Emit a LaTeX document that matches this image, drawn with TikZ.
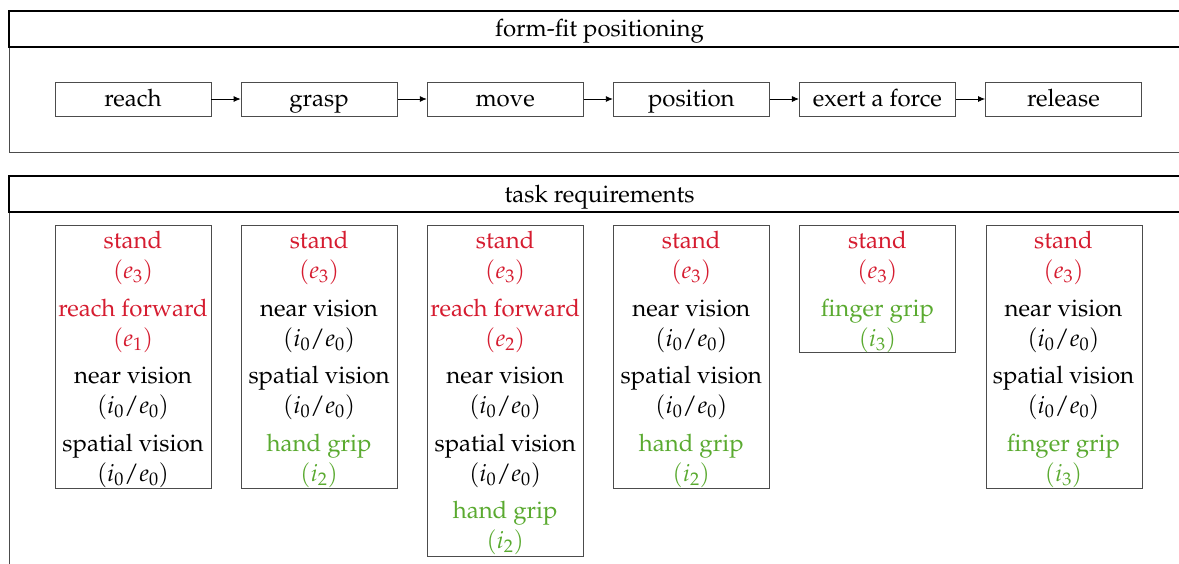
\documentclass[tikz,border=0pt]{standalone}
\usepackage[T1]{fontenc}
\usepackage{mathpazo}
\usetikzlibrary{arrows.meta}
\definecolor{reqred}{RGB}{214,28,48}
\definecolor{reqgreen}{RGB}{90,170,48}
\newcommand\ReqItem[6]{%
  \node[lbl,text=#4] (#1a) at (#2,#3+1.5) {#5};
  \node[lbl,text=#4] (#1b) at (#2,#3+31.5) {#6};
}
\begin{document}
\begin{tikzpicture}[x=1pt,y=-1pt,
  every node/.style={font=\fontsize{24}{30}\selectfont, inner sep=0pt},
  framebox/.style={draw=black!70, line width=0.9pt},
  headbox/.style={draw=black, line width=1.2pt},
  stepbox/.style={draw=black!70, line width=0.9pt, minimum width=156pt, minimum height=34pt, text height=19pt, text depth=5pt},
  reqbox/.style={draw=black!70, line width=0.9pt, minimum width=156pt, anchor=north west},
  flow/.style={-{Latex[length=7pt,width=6pt]}, line width=0.8pt},
  lbl/.style={anchor=base, align=center}
]
\useasboundingbox (0,0) rectangle (1179,563);
\clip (0,0) rectangle (1179,563);
\fill[white] (0,0) rectangle (1179,563);

% top panel
\draw[framebox] (9,11) rectangle (1192,152);
\draw[headbox] (9,11) rectangle (1192,47);
\node[lbl] (title1) at (599.5,36.5) {form-fit positioning};

\node[stepbox] (s1) at (133,99) {reach};
\node[stepbox] (s2) at (319.1,99) {grasp};
\node[stepbox] (s3) at (505.2,99) {move};
\node[stepbox] (s4) at (691.3,99) {position};
\node[stepbox] (s5) at (877.4,99) {exert a force};
\node[stepbox] (s6) at (1063.5,99) {release};
\draw[flow] (s1) -- (s2);
\draw[flow] (s2) -- (s3);
\draw[flow] (s3) -- (s4);
\draw[flow] (s4) -- (s5);
\draw[flow] (s5) -- (s6);

% bottom panel
\draw[framebox] (9,176) rectangle (1192,620);
\draw[headbox] (9,176) rectangle (1192,212);
\node[lbl] (title2) at (599.5,202) {task requirements};

\node[reqbox, minimum height=263pt] (b1) at (55,225) {};
\node[reqbox, minimum height=263pt] (b2) at (241.1,225) {};
\node[reqbox, minimum height=331pt] (b3) at (427.2,225) {};
\node[reqbox, minimum height=263pt] (b4) at (613.3,225) {};
\node[reqbox, minimum height=127pt] (b5) at (799.4,225) {};
\node[reqbox, minimum height=263pt] (b6) at (985.5,225) {};

% column 1
\ReqItem{ca}{133}{247}{reqred}{stand}{$(e_3)$}
\ReqItem{cb}{133}{314.5}{reqred}{reach forward}{$(e_1)$}
\ReqItem{cc}{133}{382}{black}{near vision}{$(i_0/e_0)$}
\ReqItem{cd}{133}{449.5}{black}{spatial vision}{$(i_0/e_0)$}
% column 2
\ReqItem{da}{319.1}{247}{reqred}{stand}{$(e_3)$}
\ReqItem{db}{319.1}{314.5}{black}{near vision}{$(i_0/e_0)$}
\ReqItem{dc}{319.1}{382}{black}{spatial vision}{$(i_0/e_0)$}
\ReqItem{dd}{319.1}{449.5}{reqgreen}{hand grip}{$(i_2)$}
% column 3
\ReqItem{ea}{505.2}{247}{reqred}{stand}{$(e_3)$}
\ReqItem{eb}{505.2}{314.5}{reqred}{reach forward}{$(e_2)$}
\ReqItem{ec}{505.2}{382}{black}{near vision}{$(i_0/e_0)$}
\ReqItem{ed}{505.2}{449.5}{black}{spatial vision}{$(i_0/e_0)$}
\ReqItem{ee}{505.2}{517}{reqgreen}{hand grip}{$(i_2)$}
% column 4
\ReqItem{fa}{691.3}{247}{reqred}{stand}{$(e_3)$}
\ReqItem{fb}{691.3}{314.5}{black}{near vision}{$(i_0/e_0)$}
\ReqItem{fc}{691.3}{382}{black}{spatial vision}{$(i_0/e_0)$}
\ReqItem{fd}{691.3}{449.5}{reqgreen}{hand grip}{$(i_2)$}
% column 5
\ReqItem{ga}{877.4}{247}{reqred}{stand}{$(e_3)$}
\ReqItem{gb}{877.4}{314.5}{reqgreen}{finger grip}{$(i_3)$}
% column 6
\ReqItem{ha}{1063.5}{247}{reqred}{stand}{$(e_3)$}
\ReqItem{hb}{1063.5}{314.5}{black}{near vision}{$(i_0/e_0)$}
\ReqItem{hc}{1063.5}{382}{black}{spatial vision}{$(i_0/e_0)$}
\ReqItem{hd}{1063.5}{449.5}{reqgreen}{finger grip}{$(i_3)$}
\end{tikzpicture}
\end{document}
